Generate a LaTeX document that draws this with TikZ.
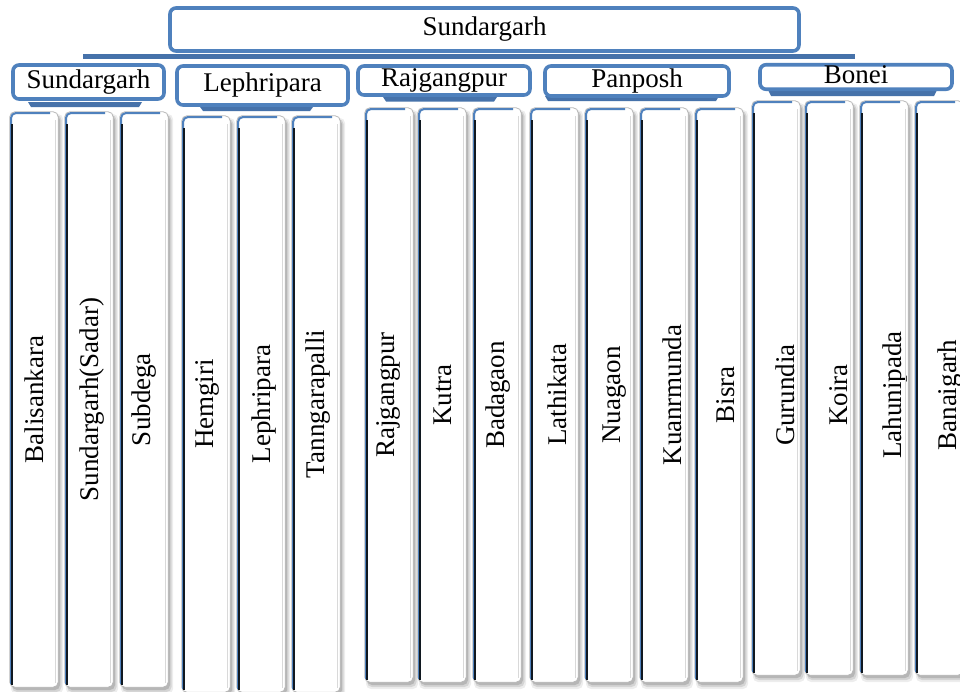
\documentclass[tikz,border=0pt]{standalone}
\usepackage{fontspec}
\setmainfont{Liberation Serif}
\definecolor{boxblue}{HTML}{4F81BD}
\definecolor{barblue}{HTML}{4672AA}
\definecolor{leafdark}{HTML}{101820}
\tikzset{
  midbox/.style={draw=boxblue, line width=3.6pt, rounded corners=6pt, fill=white,
    inner sep=0pt, font=\fontsize{27}{30}\selectfont, text height=18.6pt, text depth=5.9pt},
  leafnode/.style={rectangle, fill=white, rounded corners=5pt, minimum width=48pt,
    inner sep=0pt, font=\fontsize{27}{30}\selectfont},
  shadowlayer/.style={fill=black, rounded corners=5pt},
  bar/.style={fill=barblue}
}
\newcommand\leafbox[7]{%
  \pgfmathsetmacro\lH{#4-#3}%
  \fill[shadowlayer, opacity=0.07] (#2+1,#3+2) rectangle (#2+53,#4+7);
  \fill[shadowlayer, opacity=0.10] (#2+2,#3+3) rectangle (#2+51.5,#4+5);
  \fill[shadowlayer, opacity=0.14] (#2+2,#3+3) rectangle (#2+50,#4+3);
  \node[leafnode, minimum height=\lH pt] (#1) at (#2+24,{(#3+#4)/2})
    {\hspace*{#6pt}\rotatebox{90}{#5\hspace*{#7pt}}};
  \draw[gray!55, line width=0.8pt, rounded corners=5pt] (#1.south west) rectangle (#1.north east);
  \draw[gray!30, line width=0.8pt] (#2+45.5,#3+8) -- (#2+45.5,#4-4);
  \draw[boxblue, line width=2pt, rounded corners=5pt] (#2+1,#3+20) -- (#2+1,#3+1) -- (#2+40,#3+1);
  \draw[boxblue, line width=1pt] (#2+0.6,#3+10) -- (#2+0.6,#4-3);
  \draw[leafdark, line width=2pt] (#2+2.4,#3+12) -- (#2+2.4,#4-2);
}
\begin{document}
\begin{tikzpicture}[x=1pt,y=-1pt]
\useasboundingbox (0,0) rectangle (960,691);
\clip (0,0) rectangle (960,691);
\fill[white] (0,0) rectangle (960,691);

% top level
\fill[bar] (83,54) rectangle (855,59);
\node[midbox, minimum width=629pt, minimum height=43pt] (top) at (484.5,29.5) {Sundargarh};

% second level bars
\fill[bar] (28,102) -- (142,102) -- (139,107) -- (31,107) -- cycle;
\fill[bar] (200,107) -- (313,107) -- (310,111) -- (203,111) -- cycle;
\fill[bar] (383,97) -- (497,97) -- (494,101.5) -- (386,101.5) -- cycle;
\fill[bar] (545,96) -- (719,96) -- (716,101) -- (548,101) -- cycle;
\fill[bar] (768,90) -- (937,90) -- (934,96) -- (771,96) -- cycle;

% second level boxes
\node[midbox, minimum width=151pt, minimum height=34pt] (s1) at (88.5,82) {Sundargarh};
\node[midbox, minimum width=171pt, minimum height=39pt] (s2) at (262.5,85.5) {Lephripara};
\node[midbox, minimum width=172pt, minimum height=29pt] (s3) at (444,80.5) {Rajgangpur};
\node[midbox, minimum width=184pt, minimum height=30pt] (s4) at (637,81) {Panposh};
\node[midbox, minimum width=192pt, minimum height=24pt] (s5) at (856,77) {Bonei};

% leaves
\leafbox{l1}{10}{112}{687}{Balisankara}{0}{0}
\leafbox{l2}{65}{112}{687}{Sundargarh(Sadar)}{6}{0}
\leafbox{l3}{120}{112}{687}{Subdega}{0}{0}
\leafbox{l4}{182}{116}{692}{Hemgiri}{2}{0}
\leafbox{l5}{237}{116}{692}{Lephripara}{6}{0}
\leafbox{l6}{292}{116}{692}{Tanngarapalli}{4}{0}
\leafbox{l7}{365}{108}{682}{Rajgangpur}{-2}{0}
\leafbox{l8}{418}{108}{682}{Kutra}{2}{0}
\leafbox{l9}{473}{108}{682}{Badagaon}{2}{0}
\leafbox{l10}{530}{108}{682}{Lathikata}{6}{0}
\leafbox{l11}{585}{108}{682}{Nuagaon}{12}{0}
\leafbox{l12}{640}{108}{682}{Kuanrmunda}{16}{0}
\leafbox{l13}{695}{108}{682}{Bisra}{14}{0}
\leafbox{l14}{752}{101}{675}{Gurundia}{18}{14}
\leafbox{l15}{805}{101}{675}{Koira}{20}{14}
\leafbox{l16}{860}{101}{675}{Lahunipada}{22}{14}
\leafbox{l17}{915}{101}{675}{Banaigarh}{22}{14}
\end{tikzpicture}
\end{document}
